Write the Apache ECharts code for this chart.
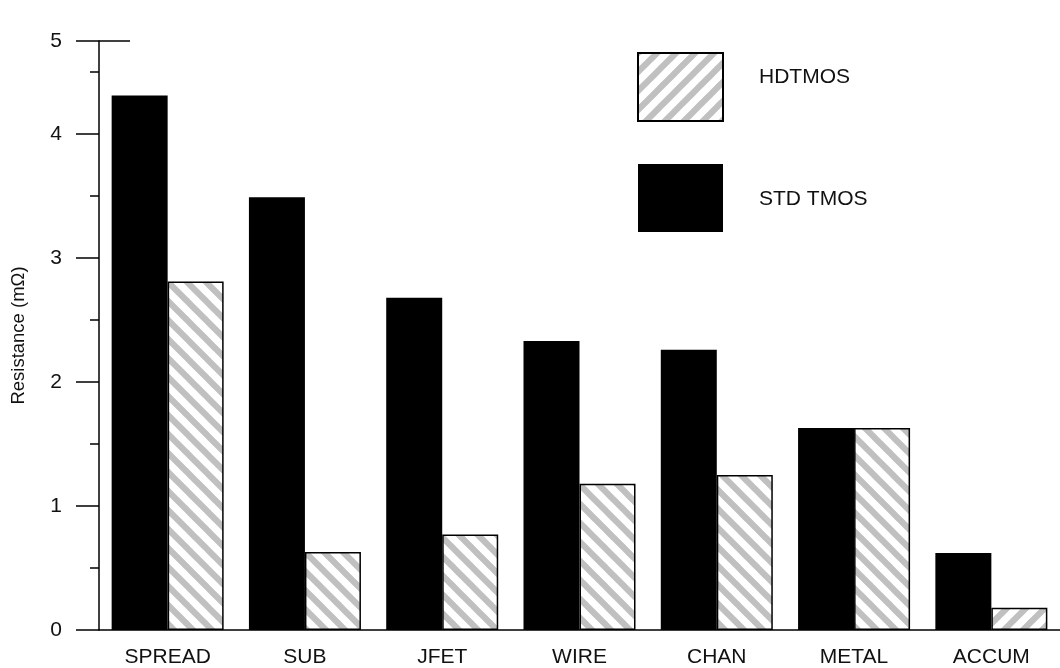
<!DOCTYPE html>
<html>
<head>
<meta charset="utf-8">
<script src="https://cdn.jsdelivr.net/npm/echarts@6/dist/echarts.min.js"></script>
<style>
html,body{margin:0;padding:0;background:#fff;}
#chart{width:1060px;height:668px;}
</style>
</head>
<body>
<div id="chart"></div>
<script>
// ---- data ----
const categories = ['SPREAD', 'SUB', 'JFET', 'WIRE', 'CHAN', 'METAL', 'ACCUM'];
const stdTmos = [4.31, 3.49, 2.68, 2.33, 2.26, 1.63, 0.62];
const hdTmos = [2.81, 0.63, 0.77, 1.18, 1.25, 1.63, 0.18];
const hatchDir = ['\\', '\\', '\\', '\\', '\\', '\\', '/'];
const yTickLabels = ['0', '1', '2', '3', '4', '5'];
const yTop = 4.75; // frame top of the value axis (drawn with label "5")

function makeHatch(dir) {
  const s = 19;
  const c = document.createElement('canvas');
  c.width = s; c.height = s;
  const g = c.getContext('2d');
  g.fillStyle = '#ffffff';
  g.fillRect(0, 0, s, s);
  g.strokeStyle = '#c0c0c0';
  g.lineWidth = 6.2;
  g.lineCap = 'butt';
  for (let k = -2 * s; k <= 2 * s; k += s) {
    g.beginPath();
    if (dir === '/') { g.moveTo(k + 2 * s, -s); g.lineTo(k - s, 2 * s); }
    else { g.moveTo(k - s, -s); g.lineTo(k + 2 * s, 2 * s); }
    g.stroke();
  }
  return { image: c, repeat: 'repeat' };
}
const hatchSlash = makeHatch('/');
const hatchBack = makeHatch('\\');

const font = '"Liberation Sans", Arial, sans-serif';
const chart = echarts.init(document.getElementById('chart'), null, { renderer: 'canvas' });

chart.setOption({
  animation: false,
  backgroundColor: '#ffffff',
  textStyle: { fontFamily: font },
  grid: { left: 99, right: 0, top: 41, bottom: 38, containLabel: false, outerBoundsMode: 'none' },
  legend: {
    data: ['HDTMOS', 'STD TMOS'],
    orient: 'vertical',
    left: 637, top: 52,
    padding: 0,
    itemWidth: 85, itemHeight: 68, itemGap: 42,
    icon: 'rect',
    formatter: function (name) {
      return name === 'HDTMOS' ? '{up|' + name + '}' : '{dn|' + name + '}';
    },
    textStyle: {
      fontFamily: font, fontSize: 21, color: '#111',
      rich: {
        up: { fontFamily: font, fontSize: 21, color: '#111', padding: [0, 0, 19, 31] },
        dn: { fontFamily: font, fontSize: 21, color: '#111', padding: [3, 0, 0, 31] }
      }
    },
    selectedMode: false
  },
  xAxis: {
    type: 'category',
    data: categories,
    axisLine: { lineStyle: { color: '#000', width: 1.5 } },
    axisTick: { show: false },
    axisLabel: { fontFamily: font, fontSize: 21, color: '#111', margin: 17 }
  },
  yAxis: [{
    type: 'value',
    min: 0, max: yTop, interval: 1,
    name: 'Resistance (mΩ)',
    nameLocation: 'middle',
    nameGap: 71,
    nameTextStyle: { fontFamily: font, fontSize: 18.5, color: '#111' },
    axisLine: { show: true, lineStyle: { color: '#000', width: 1.5 } },
    axisTick: { show: true, inside: false, length: 23, lineStyle: { color: '#000', width: 1.5 } },
    axisLabel: {
      fontFamily: font, fontSize: 21, color: '#111', margin: 37,
      formatter: function (v) {
        if (Math.abs(v - yTop) < 1e-6) return yTickLabels[5];
        return yTickLabels[Math.round(v)];
      }
    },
    splitLine: { show: false }
  }, {
    type: 'value',
    min: 0, max: yTop, interval: 0.5,
    position: 'left',
    alignTicks: false,
    axisLine: { show: false },
    axisTick: { show: true, inside: false, length: 9, lineStyle: { color: '#000', width: 1.5 } },
    axisLabel: { show: false },
    splitLine: { show: false }
  }],
  graphic: [{
    type: 'line',
    shape: { x1: 99, y1: 41, x2: 130, y2: 41 },
    style: { stroke: '#000', lineWidth: 1.5 },
    z: 10
  }],
  series: [{
    name: 'STD TMOS',
    type: 'bar',
    data: stdTmos,
    barWidth: 56,
    barGap: '0%',
    itemStyle: { color: '#000000', borderWidth: 0 }
  }, {
    name: 'HDTMOS',
    type: 'bar',
    barWidth: 56,
    barGap: '0%',
    data: hdTmos.map(function (v, i) {
      return { value: v, itemStyle: { color: hatchDir[i] === '/' ? hatchSlash : hatchBack } };
    }),
    itemStyle: { color: hatchSlash, borderColor: '#000', borderWidth: 1.5 }
  }]
});
</script>
</body>
</html>
